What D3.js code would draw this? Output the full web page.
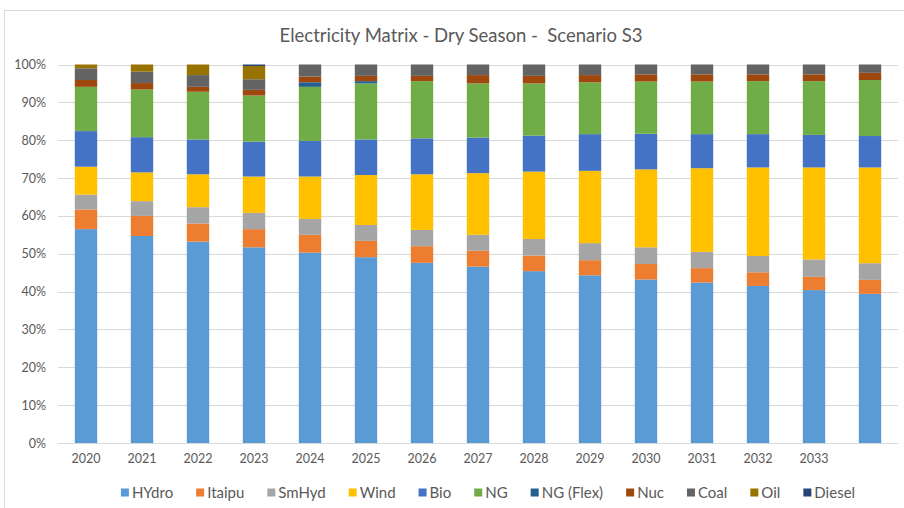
<!DOCTYPE html>
<html>
<head>
<meta charset="utf-8">
<script src="https://cdn.jsdelivr.net/npm/d3@7"></script>
<style>
  html, body { margin: 0; padding: 0; background: #fff; }
  svg { display: block; font-family: Lato, "Open Sans", sans-serif; }
</style>
</head>
<body>
<svg id="chart" width="904" height="508"></svg>
<script>
// Years on the horizontal axis (the final projection bar carries no label)
const categories = ["2020","2021","2022","2023","2024","2025","2026","2027","2028","2029","2030","2031","2032","2033",""];

// Share of generation by source, in percent
const HYdro   = [56.5,54.7,53.2,51.7,50.3,49.1,47.6,46.6,45.4,44.3,43.2,42.4,41.5,40.4,39.4];
const Itaipu  = [5.2,5.3,4.8,4.8,4.7,4.3,4.4,4.2,4.1,4.0,4.1,3.8,3.6,3.5,3.7];
const SmHyd   = [3.9,3.9,4.3,4.3,4.2,4.2,4.3,4.2,4.4,4.5,4.4,4.3,4.3,4.6,4.4];
const Wind    = [7.4,7.6,8.7,9.6,11.2,13.2,14.7,16.3,17.8,19.1,20.6,22.1,23.4,24.3,25.3];
const Bio     = [9.4,9.3,9.2,9.2,9.4,9.4,9.5,9.4,9.5,9.7,9.4,9.0,8.8,8.6,8.3];
const NG      = [11.7,12.6,12.6,12.2,14.3,14.8,15.1,14.3,13.8,13.7,13.8,13.9,14.0,14.2,14.8];
const NGFlex  = [0,0,0,0,1.2,0.6,0,0,0,0,0,0,0,0,0];
const Nuc     = [1.8,1.7,1.3,1.5,1.5,1.4,1.4,2.2,2.0,1.9,1.9,1.9,1.8,1.8,1.9];
const Coal    = [3.1,3.0,3.1,2.8,3.2,3.0,3.0,2.8,3.0,2.8,2.6,2.6,2.6,2.6,2.2];
const Oil     = [1.0,1.9,2.8,3.5,0,0,0,0,0,0,0,0,0,0,0];
const Diesel  = [0,0,0,0.4,0,0,0,0,0,0,0,0,0,0,0];

const seriesNames = ["HYdro","Itaipu","SmHyd","Wind","Bio","NG","NG (Flex)","Nuc","Coal","Oil","Diesel"];
const seriesValues = [HYdro, Itaipu, SmHyd, Wind, Bio, NG, NGFlex, Nuc, Coal, Oil, Diesel];
const seriesColors = ["#5B9BD5","#ED7D31","#A5A5A5","#FFC000","#4472C4","#70AD47","#255E91","#9E480E","#636363","#997300","#264478"];

const yTicks = [0,10,20,30,40,50,60,70,80,90,100];
const yTickLabels = ["0%","10%","20%","30%","40%","50%","60%","70%","80%","90%","100%"];

const titleText = "Electricity Matrix - Dry Season -  Scenario S3";

// ---- layout ----
const svg = d3.select("#chart");
const plot = { left: 58, right: 898, top: 64.5, bottom: 443 };

// chart frame
svg.append("rect")
  .attr("x", 4.5).attr("y", 10.5)
  .attr("width", 1000).attr("height", 600)
  .attr("fill", "none").attr("stroke", "#d9d9d9").attr("stroke-width", 1);

// build table rows for the stack
const rows = categories.map((c, i) => {
  const r = { idx: i };
  seriesNames.forEach((s, k) => { r[s] = seriesValues[k][i]; });
  return r;
});

const x = d3.scaleBand()
  .domain(d3.range(categories.length))
  .range([plot.left, plot.right])
  .paddingInner(0.6)
  .paddingOuter(0.3);

const y = d3.scaleLinear().domain([0, 100]).range([plot.bottom, plot.top]);

const color = d3.scaleOrdinal().domain(seriesNames).range(seriesColors);

// gridlines
svg.append("g")
  .selectAll("line")
  .data(yTicks)
  .join("line")
  .attr("x1", plot.left).attr("x2", plot.right)
  .attr("y1", d => Math.round(y(d)) + 0.5).attr("y2", d => Math.round(y(d)) + 0.5)
  .attr("stroke", "#d9d9d9").attr("stroke-width", 1);

// y axis labels
const yAxis = d3.axisLeft(y)
  .tickValues(yTicks)
  .tickFormat((d, i) => yTickLabels[i])
  .tickSize(0)
  .tickPadding(0);
const gy = svg.append("g").attr("transform", `translate(46,0)`).call(yAxis);
gy.select(".domain").remove();
gy.selectAll("text").attr("fill", "#595959").attr("font-size", 12.5)
  .attr("font-family", "Lato, 'Open Sans', sans-serif");

// stacked bars
const stack = d3.stack().keys(seriesNames).order(d3.stackOrderNone).offset(d3.stackOffsetNone);
const stacked = stack(rows);

svg.append("g")
  .selectAll("g")
  .data(stacked)
  .join("g")
  .attr("fill", d => color(d.key))
  .selectAll("rect")
  .data(d => d.filter(p => p[1] - p[0] > 0))
  .join("rect")
  .attr("x", p => x(p.data.idx))
  .attr("width", x.bandwidth())
  .attr("y", p => y(p[1]))
  .attr("height", p => y(p[0]) - y(p[1]));

// x axis labels
const xAxis = d3.axisBottom(x)
  .tickFormat(i => categories[i])
  .tickSize(0)
  .tickPadding(0);
const gx = svg.append("g").attr("transform", `translate(0,${plot.bottom + 11})`).call(xAxis);
gx.select(".domain").remove();
gx.selectAll("text").attr("fill", "#595959").attr("font-size", 12.5)
  .attr("font-family", "Lato, 'Open Sans', sans-serif");

// title (keeps the double space before "Scenario")
svg.append("text")
  .attr("x", 461).attr("y", 42)
  .attr("text-anchor", "middle")
  .attr("font-size", 18.5)
  .attr("fill", "#595959")
  .style("white-space", "pre")
  .attr("xml:space", "preserve")
  .text(titleText);

// legend
const legend = svg.append("g").attr("font-size", 15).attr("fill", "#595959");
const items = legend.selectAll("g").data(seriesNames).join("g");
items.append("rect").attr("width", 8).attr("height", 8).attr("y", -9.5).attr("fill", d => color(d));
items.append("text").attr("x", 11).attr("y", 0).text(d => d);
let cursor = 0;
const gap = 23;
items.each(function() {
  const w = this.getBBox().width;
  d3.select(this).attr("transform", `translate(${cursor},0)`);
  cursor += w + gap;
});
const total = cursor - gap;
legend.attr("transform", `translate(${488 - total / 2},498)`);
</script>
</body>
</html>
